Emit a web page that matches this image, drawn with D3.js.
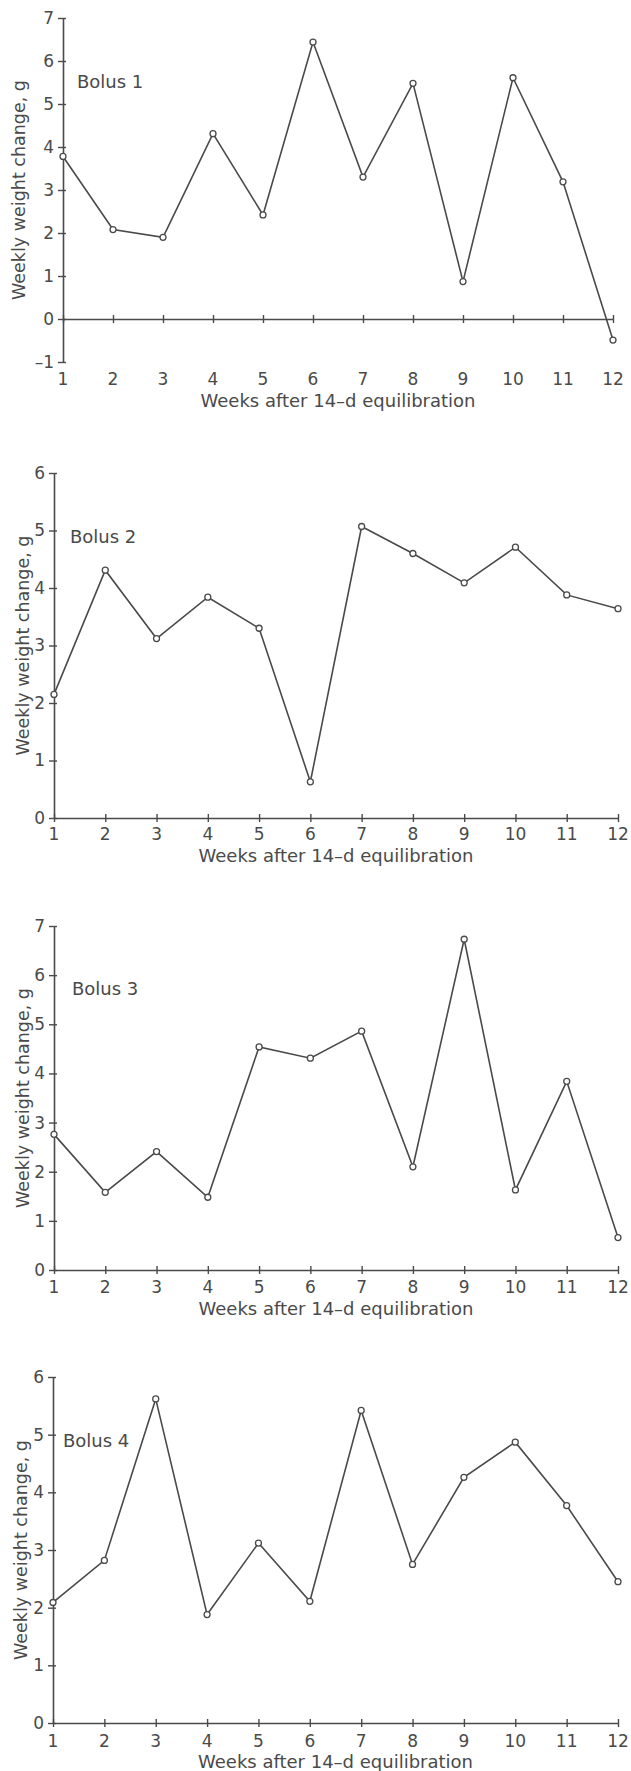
<!DOCTYPE html>
<html>
<head>
<meta charset="utf-8">
<script src="https://cdn.jsdelivr.net/npm/d3@7"></script>
<style>
body { margin: 0; background: #fff; }
text { font-family: "DejaVu Sans", sans-serif; }
</style>
</head>
<body>
<svg id="chart" width="631" height="1771"></svg>
<script>
var weeks = [1, 2, 3, 4, 5, 6, 7, 8, 9, 10, 11, 12];

var bolus1 = [3.78, 2.08, 1.9, 4.31, 2.42, 6.44, 3.3, 5.48, 0.87, 5.61, 3.19, -0.49];
var bolus2 = [2.15, 4.31, 3.12, 3.84, 3.3, 0.63, 5.07, 4.6, 4.09, 4.71, 3.88, 3.64];
var bolus3 = [2.76, 1.58, 2.41, 1.48, 4.54, 4.31, 4.86, 2.1, 6.73, 1.63, 3.84, 0.66];
var bolus4 = [2.09, 2.82, 5.62, 1.88, 3.12, 2.11, 5.42, 2.75, 4.26, 4.87, 3.77, 2.45];

var yTicks1 = [-1, 0, 1, 2, 3, 4, 5, 6, 7];
var yTicks2 = [0, 1, 2, 3, 4, 5, 6];
var yTicks3 = [0, 1, 2, 3, 4, 5, 6, 7];
var yTicks4 = [0, 1, 2, 3, 4, 5, 6];

var xTitle = 'Weeks after 14\u2013d equilibration';
var yTitle = 'Weekly weight change, g';

var ink = '#4a4a4a';
var svg = d3.select('#chart');

// layout of the four stacked panels
var panels = [
    {name: 'Bolus 1', values: bolus1, ticks: yTicks1, yMin: -1, yMax: 7,
     left: 63, right: 613, top: 18, bottom: 362,
     labelY: 385, titleY: 407, yTitleX: 25, nameX: 77, nameY: 88},
    {name: 'Bolus 2', values: bolus2, ticks: yTicks2, yMin: 0, yMax: 6,
     left: 54, right: 618, top: 473, bottom: 818,
     labelY: 840, titleY: 862, yTitleX: 29, nameX: 70, nameY: 543},
    {name: 'Bolus 3', values: bolus3, ticks: yTicks3, yMin: 0, yMax: 7,
     left: 54, right: 618, top: 926, bottom: 1270,
     labelY: 1293, titleY: 1315, yTitleX: 29, nameX: 72, nameY: 995},
    {name: 'Bolus 4', values: bolus4, ticks: yTicks4, yMin: 0, yMax: 6,
     left: 53, right: 618, top: 1377, bottom: 1723,
     labelY: 1747, titleY: 1768, yTitleX: 27, nameX: 63, nameY: 1447}
];

panels.forEach(drawPanel);

function drawPanel(p) {
    var x = d3.scaleLinear().domain([1, 12]).range([p.left, p.right]);
    var y = d3.scaleLinear().domain([p.yMin, p.yMax]).range([p.bottom, p.top]);

    var g = svg.append('g');

    //y axis
    var yAxis = g.append('g')
        .attr('transform', 'translate(' + p.left + ',0)')
        .call(d3.axisLeft(y).tickValues(p.ticks).tickSize(5).tickSizeOuter(0)
            .tickPadding(4).tickFormat(function(d){ return d < 0 ? '\u2013' + (-d) : d; }));
    // axis() writes its own font settings, so override afterwards
    yAxis.attr('color', ink)
        .attr('font-size', 17)
        .attr('font-family', '"DejaVu Sans", sans-serif');
    yAxis.selectAll('.tick line').attr('x1', 3).attr('stroke-width', 1.4);
    yAxis.select('.domain').attr('stroke-width', 1.6);

    //x axis sits on zero
    var xAxis = g.append('g')
        .attr('transform', 'translate(0,' + y(0) + ')')
        .call(d3.axisBottom(x).tickValues(weeks).tickSize(4).tickSizeOuter(0).tickFormat(''));
    xAxis.attr('color', ink);
    xAxis.selectAll('.tick line').attr('y1', -4).attr('stroke-width', 1.4);
    xAxis.select('.domain').attr('stroke-width', 1.6);

    //week labels
    g.selectAll('text.week')
        .data(weeks)
        .enter()
        .append('text')
        .attr('class', 'week')
        .attr('x', function(d){ return x(d); })
        .attr('y', p.labelY)
        .attr('text-anchor', 'middle')
        .attr('font-size', 17)
        .attr('fill', ink)
        .text(function(d){ return d; });

    g.append('text')
        .attr('x', (p.left + p.right) / 2)
        .attr('y', p.titleY)
        .attr('text-anchor', 'middle')
        .attr('font-size', 18)
        .attr('fill', ink)
        .text(xTitle);

    g.append('text')
        .attr('transform', 'translate(' + p.yTitleX + ',' + ((p.top + p.bottom) / 2) + ') rotate(-90)')
        .attr('text-anchor', 'middle')
        .attr('font-size', 17.5)
        .attr('fill', ink)
        .text(yTitle);

    g.append('text')
        .attr('x', p.nameX)
        .attr('y', p.nameY)
        .attr('font-size', 18)
        .attr('fill', ink)
        .text(p.name);

    //series
    var line = d3.line()
        .x(function(d, i){ return x(weeks[i]); })
        .y(function(d){ return y(d); });

    g.append('path')
        .datum(p.values)
        .attr('d', line)
        .attr('fill', 'none')
        .attr('stroke', ink)
        .attr('stroke-width', 1.6);

    g.selectAll('circle')
        .data(p.values)
        .enter()
        .append('circle')
        .attr('cx', function(d, i){ return x(weeks[i]); })
        .attr('cy', function(d){ return y(d); })
        .attr('r', 3)
        .attr('fill', '#fff')
        .attr('stroke', ink)
        .attr('stroke-width', 1.3);
}
</script>
</body>
</html>
